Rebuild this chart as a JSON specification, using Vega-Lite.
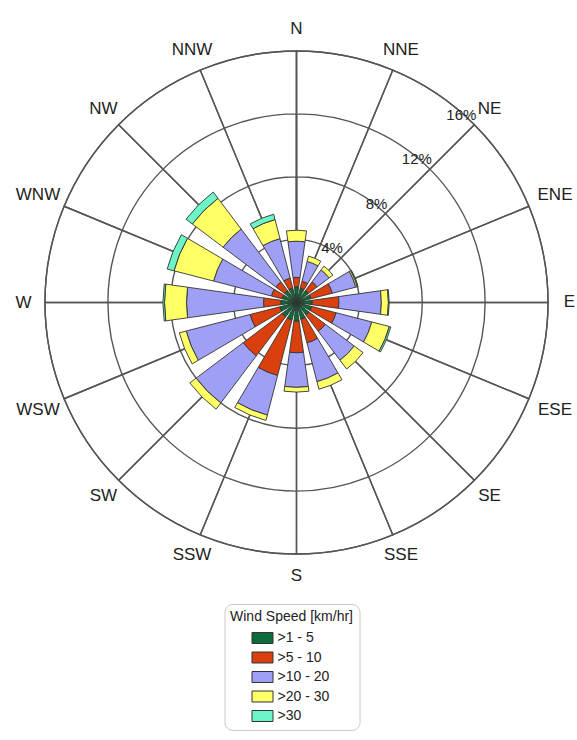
{
  "$schema": "https://vega.github.io/schema/vega-lite/v6.json",
  "width": 560,
  "height": 605,
  "autosize": "none",
  "padding": {"left": 16.5, "top": 0, "right": 0.5, "bottom": 135},
  "background": "white",
  "config": {"view": {"stroke": null}, "font": "Liberation Sans"},
  "datasets": {
    "rose": [
      {"dir": "N", "cls": ">1 - 5", "k": 1, "pct": 1.0},
      {"dir": "N", "cls": ">5 - 10", "k": 2, "pct": 0.6},
      {"dir": "N", "cls": ">10 - 20", "k": 3, "pct": 2.3},
      {"dir": "N", "cls": ">20 - 30", "k": 4, "pct": 0.7},
      {"dir": "NNE", "cls": ">1 - 5", "k": 1, "pct": 0.95},
      {"dir": "NNE", "cls": ">5 - 10", "k": 2, "pct": 0.45},
      {"dir": "NNE", "cls": ">10 - 20", "k": 3, "pct": 1.3},
      {"dir": "NNE", "cls": ">20 - 30", "k": 4, "pct": 0.35},
      {"dir": "NE", "cls": ">1 - 5", "k": 1, "pct": 0.95},
      {"dir": "NE", "cls": ">5 - 10", "k": 2, "pct": 0.7},
      {"dir": "NE", "cls": ">10 - 20", "k": 3, "pct": 0.95},
      {"dir": "NE", "cls": ">20 - 30", "k": 4, "pct": 0.3},
      {"dir": "ENE", "cls": ">1 - 5", "k": 1, "pct": 0.95},
      {"dir": "ENE", "cls": ">5 - 10", "k": 2, "pct": 1.4},
      {"dir": "ENE", "cls": ">10 - 20", "k": 3, "pct": 1.55},
      {"dir": "ENE", "cls": ">20 - 30", "k": 4, "pct": 0.1},
      {"dir": "ENE", "cls": ">30", "k": 5, "pct": 0.05},
      {"dir": "E", "cls": ">1 - 5", "k": 1, "pct": 1.0},
      {"dir": "E", "cls": ">5 - 10", "k": 2, "pct": 1.7},
      {"dir": "E", "cls": ">10 - 20", "k": 3, "pct": 2.7},
      {"dir": "E", "cls": ">20 - 30", "k": 4, "pct": 0.45},
      {"dir": "E", "cls": ">30", "k": 5, "pct": 0.05},
      {"dir": "ESE", "cls": ">1 - 5", "k": 1, "pct": 1.0},
      {"dir": "ESE", "cls": ">5 - 10", "k": 2, "pct": 1.6},
      {"dir": "ESE", "cls": ">10 - 20", "k": 3, "pct": 2.35},
      {"dir": "ESE", "cls": ">20 - 30", "k": 4, "pct": 1.15},
      {"dir": "ESE", "cls": ">30", "k": 5, "pct": 0.1},
      {"dir": "SE", "cls": ">1 - 5", "k": 1, "pct": 1.0},
      {"dir": "SE", "cls": ">5 - 10", "k": 2, "pct": 1.3},
      {"dir": "SE", "cls": ">10 - 20", "k": 3, "pct": 2.3},
      {"dir": "SE", "cls": ">20 - 30", "k": 4, "pct": 0.7},
      {"dir": "SSE", "cls": ">1 - 5", "k": 1, "pct": 1.1},
      {"dir": "SSE", "cls": ">5 - 10", "k": 2, "pct": 1.55},
      {"dir": "SSE", "cls": ">10 - 20", "k": 3, "pct": 2.55},
      {"dir": "SSE", "cls": ">20 - 30", "k": 4, "pct": 0.5},
      {"dir": "S", "cls": ">1 - 5", "k": 1, "pct": 1.2},
      {"dir": "S", "cls": ">5 - 10", "k": 2, "pct": 2.0},
      {"dir": "S", "cls": ">10 - 20", "k": 3, "pct": 2.2},
      {"dir": "S", "cls": ">20 - 30", "k": 4, "pct": 0.3},
      {"dir": "SSW", "cls": ">1 - 5", "k": 1, "pct": 1.15},
      {"dir": "SSW", "cls": ">5 - 10", "k": 2, "pct": 3.65},
      {"dir": "SSW", "cls": ">10 - 20", "k": 3, "pct": 2.6},
      {"dir": "SSW", "cls": ">20 - 30", "k": 4, "pct": 0.35},
      {"dir": "SW", "cls": ">1 - 5", "k": 1, "pct": 1.15},
      {"dir": "SW", "cls": ">5 - 10", "k": 2, "pct": 3.1},
      {"dir": "SW", "cls": ">10 - 20", "k": 3, "pct": 3.75},
      {"dir": "SW", "cls": ">20 - 30", "k": 4, "pct": 0.5},
      {"dir": "WSW", "cls": ">1 - 5", "k": 1, "pct": 1.1},
      {"dir": "WSW", "cls": ">5 - 10", "k": 2, "pct": 1.95},
      {"dir": "WSW", "cls": ">10 - 20", "k": 3, "pct": 4.2},
      {"dir": "WSW", "cls": ">20 - 30", "k": 4, "pct": 0.45},
      {"dir": "W", "cls": ">1 - 5", "k": 1, "pct": 1.0},
      {"dir": "W", "cls": ">5 - 10", "k": 2, "pct": 1.1},
      {"dir": "W", "cls": ">10 - 20", "k": 3, "pct": 4.9},
      {"dir": "W", "cls": ">20 - 30", "k": 4, "pct": 1.4},
      {"dir": "W", "cls": ">30", "k": 5, "pct": 0.1},
      {"dir": "WNW", "cls": ">1 - 5", "k": 1, "pct": 0.95},
      {"dir": "WNW", "cls": ">5 - 10", "k": 2, "pct": 0.7},
      {"dir": "WNW", "cls": ">10 - 20", "k": 3, "pct": 3.8},
      {"dir": "WNW", "cls": ">20 - 30", "k": 4, "pct": 2.6},
      {"dir": "WNW", "cls": ">30", "k": 5, "pct": 0.45},
      {"dir": "NW", "cls": ">1 - 5", "k": 1, "pct": 0.95},
      {"dir": "NW", "cls": ">5 - 10", "k": 2, "pct": 0.7},
      {"dir": "NW", "cls": ">10 - 20", "k": 3, "pct": 4.2},
      {"dir": "NW", "cls": ">20 - 30", "k": 4, "pct": 2.45},
      {"dir": "NW", "cls": ">30", "k": 5, "pct": 0.5},
      {"dir": "NNW", "cls": ">1 - 5", "k": 1, "pct": 0.95},
      {"dir": "NNW", "cls": ">5 - 10", "k": 2, "pct": 0.65},
      {"dir": "NNW", "cls": ">10 - 20", "k": 3, "pct": 2.6},
      {"dir": "NNW", "cls": ">20 - 30", "k": 4, "pct": 1.25},
      {"dir": "NNW", "cls": ">30", "k": 5, "pct": 0.35}
    ],
    "rings": [
      {"ring": 4, "lab": "4%"},
      {"ring": 8, "lab": "8%"},
      {"ring": 12, "lab": "12%"},
      {"ring": 16, "lab": "16%"}
    ],
    "dirs": [
      {"dir": "N"}, {"dir": "NNE"}, {"dir": "NE"}, {"dir": "ENE"},
      {"dir": "E"}, {"dir": "ESE"}, {"dir": "SE"}, {"dir": "SSE"},
      {"dir": "S"}, {"dir": "SSW"}, {"dir": "SW"}, {"dir": "WSW"},
      {"dir": "W"}, {"dir": "WNW"}, {"dir": "NW"}, {"dir": "NNW"}
    ]
  },
  "layer": [
    {
      "data": {"name": "rings"},
      "mark": {"type": "arc", "theta": 0, "theta2": 6.283185, "filled": false, "stroke": "#555555", "strokeWidth": 1.4},
      "encoding": {
        "radius": {"field": "ring", "type": "quantitative", "stack": null, "scale": {"type": "linear", "domain": [0, 16], "range": [0, 251.5], "zero": true, "nice": false}}
      }
    },
    {
      "data": {"name": "dirs"},
      "mark": {"type": "arc", "filled": false, "stroke": "#555555", "strokeWidth": 1.4},
      "encoding": {
        "theta": {"field": "dir", "type": "nominal", "scale": {"type": "band", "domain": ["N","NNE","NE","ENE","E","ESE","SE","SSE","S","SSW","SW","WSW","W","WNW","NW","NNW"], "range": [0, 6.283185], "paddingInner": 0, "paddingOuter": 0, "round": false}},
        "radius": {"datum": 16, "type": "quantitative", "stack": null, "scale": {"type": "linear", "domain": [0, 16], "range": [0, 251.5], "zero": true, "nice": false}}
      }
    },
    {
      "data": {"name": "rose"},
      "mark": {"type": "arc", "stroke": "#333333", "strokeWidth": 0.9},
      "encoding": {
        "theta": {"field": "dir", "type": "nominal", "scale": {"type": "band", "domain": ["N","NNE","NE","ENE","E","ESE","SE","SSE","S","SSW","SW","WSW","W","WNW","NW","NNW"], "range": [-0.19635, 6.08684], "paddingInner": 0.289, "paddingOuter": 0.1445, "round": false}},
        "radius": {"field": "pct", "type": "quantitative", "stack": "zero", "scale": {"type": "linear", "domain": [0, 16], "range": [0, 251.5], "zero": true, "nice": false}},
        "order": {"field": "k", "type": "quantitative"},
        "color": {
          "field": "cls", "type": "nominal",
          "scale": {"domain": [">1 - 5", ">5 - 10", ">10 - 20", ">20 - 30", ">30"], "range": ["#0b6b3a", "#d9400e", "#9f9ff5", "#ffff66", "#6cf5c8"]},
          "legend": {
            "title": "Wind Speed [km/hr]",
            "orient": "none", "legendX": 208, "legendY": 604,
            "titleFontSize": 14, "titleFontWeight": "normal", "titleColor": "#222222", "titleAnchor": "middle", "titleAlign": "center",
            "titleBaseline": "top", "titlePadding": 5,
            "labelFontSize": 14, "labelColor": "#222222", "labelOffset": 6,
            "symbolType": "M-1.3,-0.68L1.3,-0.68L1.3,0.68L-1.3,0.68Z", "symbolSize": 261,
            "symbolStrokeColor": "#333333", "symbolStrokeWidth": 1, "symbolOpacity": 1,
            "rowPadding": 2.5,
            "strokeColor": "#c8c8c8", "fillColor": "white", "cornerRadius": 8, "padding": 6
          }
        }
      }
    },
    {
      "data": {"name": "rings"},
      "mark": {"type": "text", "theta": 0.7854, "align": "right", "baseline": "alphabetic", "dx": 2, "dy": -5, "fontSize": 15, "color": "#222222"},
      "encoding": {
        "radius": {"field": "ring", "type": "quantitative", "stack": null, "scale": {"type": "linear", "domain": [0, 16], "range": [0, 251.5], "zero": true, "nice": false}},
        "text": {"field": "lab", "type": "nominal"}
      }
    },
    {
      "data": {"name": "dirs"},
      "transform": [{"filter": {"not": {"field": "dir", "oneOf": ["ENE", "ESE", "WSW", "WNW"]}}}],
      "mark": {"type": "text", "align": "center", "baseline": "middle", "fontSize": 17, "color": "#222222"},
      "encoding": {
        "theta": {"field": "dir", "type": "nominal", "scale": {"type": "point", "domain": ["N","NNE","NE","ENE","E","ESE","SE","SSE","S","SSW","SW","WSW","W","WNW","NW","NNW"], "range": [0, 5.890486], "padding": 0, "round": false}},
        "radius": {"datum": 17.37, "type": "quantitative", "stack": null, "scale": {"type": "linear", "domain": [0, 16], "range": [0, 251.5], "zero": true, "nice": false}},
        "text": {"field": "dir", "type": "nominal"}
      }
    },
    {
      "data": {"name": "dirs"},
      "transform": [{"filter": {"field": "dir", "oneOf": ["ENE", "ESE", "WSW", "WNW"]}}],
      "mark": {"type": "text", "align": "center", "baseline": "middle", "fontSize": 17, "color": "#222222"},
      "encoding": {
        "theta": {"field": "dir", "type": "nominal", "scale": {"type": "point", "domain": ["N","NNE","NE","ENE","E","ESE","SE","SSE","S","SSW","SW","WSW","W","WNW","NW","NNW"], "range": [0, 5.890486], "padding": 0, "round": false}},
        "radius": {"datum": 17.8, "type": "quantitative", "stack": null, "scale": {"type": "linear", "domain": [0, 16], "range": [0, 251.5], "zero": true, "nice": false}},
        "text": {"field": "dir", "type": "nominal"}
      }
    }
  ],
  "resolve": {"scale": {"theta": "independent"}}
}
